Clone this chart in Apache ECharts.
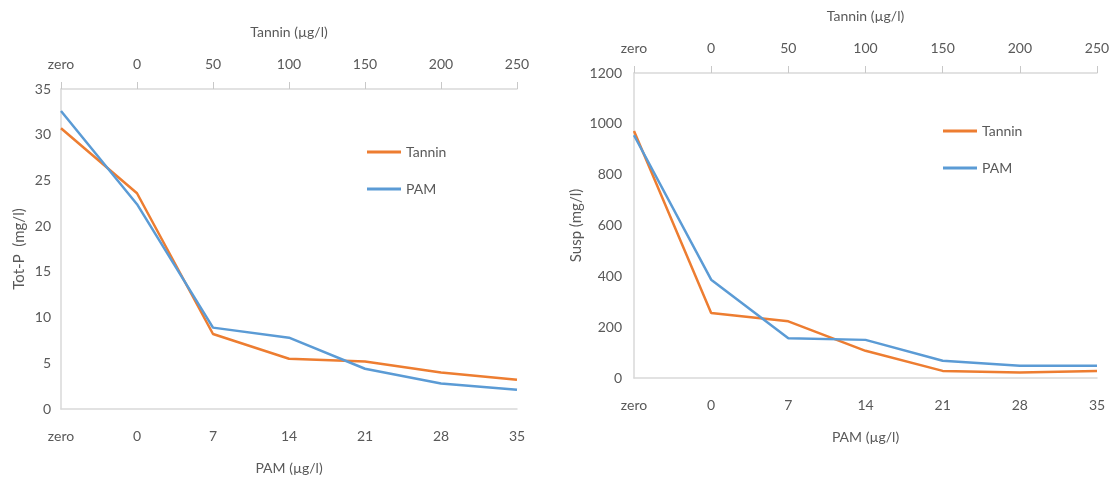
<!DOCTYPE html>
<html>
<head>
<meta charset="utf-8">
<script src="https://cdn.jsdelivr.net/npm/echarts@6/dist/echarts.min.js"></script>
<style>
  html, body { margin: 0; padding: 0; background: #fff; }
  #chart { width: 1116px; height: 484px; }
</style>
</head>
<body>
<div id="chart"></div>
<script>
// categories
var pamLabels = ['zero', '0', '7', '14', '21', '28', '35'];
var tanninLabels = ['zero', '0', '50', '100', '150', '200', '250'];

// Tot-P (mg/l)
var totpTannin = [30.7, 23.6, 8.2, 5.5, 5.2, 4.0, 3.2];
var totpPam = [32.6, 22.4, 8.9, 7.8, 4.4, 2.8, 2.1];

// Susp (mg/l)
var suspTannin = [972, 256, 223, 107, 28, 22, 28];
var suspPam = [955, 387, 156, 150, 68, 48, 48];

var orange = '#ED7D31';
var blue = '#5B9BD5';
var txt = '#595959';
var font = 'Lato';
var gridLine = '#d9d9d9';

function bottomAxis(grid) {
  return {
    type: 'category',
    gridIndex: grid,
    position: 'bottom',
    boundaryGap: false,
    data: pamLabels,
    name: 'PAM (µg/l)',
    nameLocation: 'middle',
    nameGap: 52,
    nameTextStyle: { color: txt, fontSize: 14, fontFamily: font },
    axisLine: { lineStyle: { color: gridLine, width: 1.5 } },
    axisTick: { show: false },
    axisLabel: { color: txt, fontSize: 14, fontFamily: font, margin: 20, interval: 0 },
    splitLine: { show: false }
  };
}

function topAxis(grid) {
  return {
    type: 'category',
    gridIndex: grid,
    position: 'top',
    boundaryGap: false,
    data: tanninLabels,
    name: 'Tannin (µg/l)',
    nameLocation: 'middle',
    nameGap: 50,
    nameTextStyle: { color: txt, fontSize: 14, fontFamily: font },
    axisLine: { lineStyle: { color: gridLine, width: 1.5 } },
    axisTick: { show: true, length: 7, interval: 0, lineStyle: { color: '#c8c8c8', width: 1 } },
    axisLabel: { color: txt, fontSize: 14, fontFamily: font, margin: 18, interval: 0 },
    splitLine: { show: false }
  };
}

function lineSeries(name, x, y, data, color) {
  return {
    name: name,
    type: 'line',
    xAxisIndex: x,
    yAxisIndex: y,
    data: data,
    symbol: 'none',
    smooth: false,
    lineStyle: { color: color, width: 2.5 },
    itemStyle: { color: color }
  };
}

var myChart = echarts.init(document.getElementById('chart'));
var option = {
  animation: false,
  backgroundColor: '#fff',
  textStyle: { fontFamily: font, color: txt },
  grid: [
    { left: 61, right: 599, top: 89, bottom: 75 },
    { left: 634, right: 19, top: 73, bottom: 106 }
  ],
  legend: [
    {
      left: 362, top: 140, orient: 'vertical', itemGap: 23,
      itemWidth: 34, itemHeight: 3, icon: 'rect',
      textStyle: { color: txt, fontSize: 14, fontFamily: font },
      data: ['Tannin', 'PAM']
    },
    {
      left: 938, top: 119, orient: 'vertical', itemGap: 23,
      itemWidth: 34, itemHeight: 3, icon: 'rect',
      textStyle: { color: txt, fontSize: 14, fontFamily: font },
      data: ['Tannin ', 'PAM ']
    }
  ],
  xAxis: [bottomAxis(0), topAxis(0), bottomAxis(1), topAxis(1)],
  yAxis: [
    {
      type: 'value', gridIndex: 0, min: 0, max: 35, interval: 5,
      name: 'Tot-P  (mg/l)', nameLocation: 'middle', nameGap: 34, nameRotate: 90,
      nameTextStyle: { color: txt, fontSize: 15, fontFamily: font },
      axisLine: { show: true, lineStyle: { color: gridLine, width: 1.5 } },
      axisTick: { show: false },
      axisLabel: { color: txt, fontSize: 14, fontFamily: font, margin: 10 },
      splitLine: { show: false }
    },
    {
      type: 'value', gridIndex: 1, min: 0, max: 1200, interval: 200,
      name: 'Susp (mg/l)', nameLocation: 'middle', nameGap: 50, nameRotate: 90,
      nameTextStyle: { color: txt, fontSize: 15, fontFamily: font },
      axisLine: { show: true, lineStyle: { color: gridLine, width: 1.5 } },
      axisTick: { show: false },
      axisLabel: {
        color: txt, fontSize: 14, fontFamily: font, margin: 12,
        formatter: function (v) { return String(v); }
      },
      splitLine: { show: false }
    }
  ],
  series: [
    lineSeries('Tannin', 0, 0, totpTannin, orange),
    lineSeries('PAM', 0, 0, totpPam, blue),
    lineSeries('Tannin ', 2, 1, suspTannin, orange),
    lineSeries('PAM ', 2, 1, suspPam, blue)
  ]
};
myChart.setOption(option);
window.onresize = myChart.resize;
</script>
</body>
</html>
